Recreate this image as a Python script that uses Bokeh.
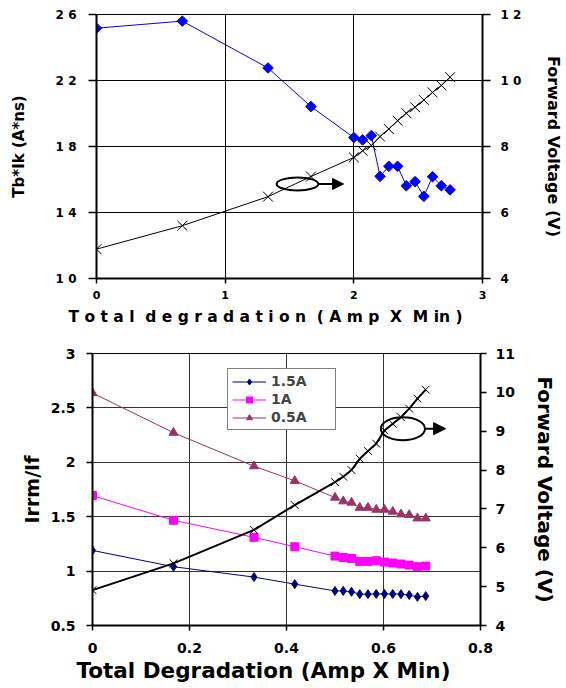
import numpy as np
from bokeh.plotting import figure
from bokeh.models import (Range1d, LinearAxis, Arrow, NormalHead, Legend,
                          LegendItem, Title)
from bokeh.embed import file_html
from bokeh.resources import INLINE

FONT = "DejaVu Sans"
NB = "\u00a0"

# ---------------- data: top chart ----------------
top_x = [0, 0.667, 1.333, 1.667, 2.0, 2.068, 2.136, 2.204, 2.272, 2.34,
         2.408, 2.476, 2.544, 2.612, 2.68, 2.748]
top_tbik = [25.17, 25.6, 22.76, 20.42, 18.54, 18.4, 18.66, 16.19, 16.8, 16.8,
            15.62, 15.87, 14.98, 16.17, 15.62, 15.37]
top_vf = [4.89, 5.60, 6.48, 7.09, 7.67, 7.87, 8.03, 8.30, 8.53, 8.78,
          9.01, 9.19, 9.41, 9.64, 9.85, 10.10]

top_x_ticks = [0, 1, 2, 3]
top_x_labels = ["0", "1", "2", "3"]
top_y_ticks = [10, 14, 18, 22, 26]
top_y_labels = ["1 0", "1 4", "1 8", "2 2", "2 6"]
top_r_ticks = [4, 6, 8, 10, 12]
top_r_labels = ["4", "6", "8", "1 0", "1 2"]

# ---------------- data: bottom chart ----------------
bot_x = [0, 0.167, 0.333, 0.417, 0.5, 0.517, 0.534, 0.551, 0.568, 0.585,
         0.602, 0.619, 0.636, 0.653, 0.670, 0.687]
irr_15 = [1.19, 1.04, 0.945, 0.88, 0.818, 0.818, 0.81, 0.788, 0.788, 0.79,
          0.79, 0.79, 0.788, 0.78, 0.763, 0.77]
irr_10 = [1.694, 1.467, 1.31, 1.224, 1.138, 1.125, 1.116, 1.089, 1.089, 1.095,
          1.083, 1.074, 1.065, 1.055, 1.04, 1.046]
irr_05 = [2.637, 2.272, 1.964, 1.83, 1.676, 1.642, 1.63, 1.583, 1.583, 1.565,
          1.565, 1.547, 1.522, 1.516, 1.485, 1.485]
bot_vf = [4.91, 5.60, 6.46, 7.10, 7.69, 7.83, 8.0, 8.29, 8.49, 8.68,
          9.02, 9.19, 9.36, 9.58, 9.84, 10.07]
series_names = ["1.5A", "1A", "0.5A"]

bot_x_ticks = [0, 0.2, 0.4, 0.6, 0.8]
bot_x_labels = ["0", "0.2", "0.4", "0.6", "0.8"]
bot_y_ticks = [0.5, 1, 1.5, 2, 2.5, 3]
bot_y_labels = ["0.5", "1", "1.5", "2", "2.5", "3"]
bot_r_ticks = [4, 5, 6, 7, 8, 9, 10, 11]
bot_r_labels = ["4", "5", "6", "7", "8", "9", "10", "11"]

# annotation (ellipse + arrow pointing to the right axis)
top_ell = dict(x=1.562, y=15.73, w=0.324, h=0.79, ax0=1.72, ax1=1.92)
bot_ell = dict(x=0.640, y=2.309, w=0.091, h=0.212, ax0=0.685, ax1=0.728)

top_title = (" ".join("Total") + NB + NB + " ".join("degradation") + NB + NB +
             "( A m p" + NB + NB + "X" + NB + NB + "M in )")


def style_axis(ax, ticks, labels, fsize, tick_out, standoff):
    ax.ticker = ticks
    ax.major_label_overrides = {t: l for t, l in zip(ticks, labels)}
    ax.major_label_text_font = FONT
    ax.major_label_text_font_style = "bold"
    ax.major_label_text_font_size = fsize
    ax.major_label_text_color = "black"
    ax.major_tick_out = tick_out
    ax.major_tick_in = 0
    ax.minor_tick_out = 0
    ax.minor_tick_in = 0
    ax.major_label_standoff = standoff
    ax.axis_line_color = "black"
    ax.axis_line_width = 2
    ax.major_tick_line_color = "black"
    ax.major_tick_line_width = 1.5


def style_label(ax, text, fsize, standoff):
    ax.axis_label = text
    ax.axis_label_text_font = FONT
    ax.axis_label_text_font_style = "bold"
    ax.axis_label_text_font_size = fsize
    ax.axis_label_text_color = "black"
    ax.axis_label_standoff = standoff


# ================= top figure =================
p1 = figure(width=566, height=332, x_range=Range1d(0, 3), y_range=Range1d(10, 26),
            output_backend="svg", toolbar_location=None,
            min_border_left=96, min_border_right=83, min_border_top=14,
            min_border_bottom=54)
p1.extra_y_ranges = {"vf": Range1d(4, 12)}
r1 = LinearAxis(y_range_name="vf")
p1.add_layout(r1, "right")

style_axis(p1.xaxis[0], top_x_ticks, top_x_labels, "11px", 5, 7)
style_axis(p1.yaxis[0], top_y_ticks, top_y_labels, "12px", 8, 12)
style_axis(r1, top_r_ticks, top_r_labels, "12px", 8, 10)
style_label(p1.yaxis[0], "Tb*Ik (A*ns)", "15px", 25)
style_label(r1, "Forward Voltage (V)", "16px", 20)
p1.add_layout(Title(text=top_title, align="left", offset=-28, text_font=FONT,
                    text_font_style="bold", text_font_size="15.5px",
                    text_color="black", standoff=8), "below")

for g in (p1.xgrid[0], p1.ygrid[0]):
    g.grid_line_color = "black"
    g.grid_line_width = 1
p1.outline_line_color = "black"
p1.outline_line_width = 1

p1.line(top_x, top_tbik, line_color="#0000FF", line_width=1)
p1.scatter(top_x, top_tbik, marker="square", angle=np.pi / 4, size=7.5,
           fill_color="#0000FF", line_color="#0000FF")
p1.line(top_x, top_vf, y_range_name="vf", line_color="black", line_width=1)
p1.scatter(top_x, top_vf, y_range_name="vf", marker="x", size=14,
           line_color="black", line_width=1)

p1.ellipse(x=[top_ell["x"]], y=[top_ell["y"]], width=[top_ell["w"]],
           height=[top_ell["h"]], fill_color=None, line_color="black",
           line_width=2)
p1.add_layout(Arrow(end=NormalHead(size=11, fill_color="black", line_color="black"),
                    x_start=top_ell["ax0"], y_start=top_ell["y"],
                    x_end=top_ell["ax1"], y_end=top_ell["y"],
                    line_color="black", line_width=2))

# ================= bottom figure =================
p2 = figure(width=566, height=356, x_range=Range1d(0, 0.8), y_range=Range1d(0.5, 3),
            output_backend="svg", toolbar_location=None,
            min_border_left=92, min_border_right=86, min_border_top=21,
            min_border_bottom=63)
p2.extra_y_ranges = {"vf": Range1d(4, 11)}
r2 = LinearAxis(y_range_name="vf")
p2.add_layout(r2, "right")

style_axis(p2.xaxis[0], bot_x_ticks, bot_x_labels, "14px", 5, 12)
style_axis(p2.yaxis[0], bot_y_ticks, bot_y_labels, "14px", 6, 11)
style_axis(r2, bot_r_ticks, bot_r_labels, "14px", 6, 9)
style_label(p2.yaxis[0], "Irrm/If", "19px", 5)
style_label(r2, "Forward Voltage (V)", "20px", 15)
p2.add_layout(Title(text="Total Degradation (Amp X Min)",
                    align="left", offset=-16, text_font=FONT,
                    text_font_style="bold", text_font_size="21.5px",
                    text_color="black", standoff=0), "below")

for g in (p2.xgrid[0], p2.ygrid[0]):
    g.grid_line_color = "#333333"
    g.grid_line_width = 1
p2.outline_line_color = "black"
p2.outline_line_width = 1

colors = ["#000080", "#FF00FF", "#993366"]
markers = [("diamond", 9), ("square", 8), ("triangle", 9)]
items = []
for name, ys, c, (mk, sz) in zip(series_names, [irr_15, irr_10, irr_05],
                                 colors, markers):
    ln = p2.line(bot_x, ys, line_color=c, line_width=1)
    sc = p2.scatter(bot_x, ys, marker=mk, size=sz, fill_color=c, line_color=c)
    items.append(LegendItem(label=name, renderers=[ln, sc]))

p2.line(bot_x, bot_vf, y_range_name="vf", line_color="black", line_width=2)
p2.scatter(bot_x, bot_vf, y_range_name="vf", marker="x", size=11,
           line_color="black", line_width=1)

p2.ellipse(x=[bot_ell["x"]], y=[bot_ell["y"]], width=[bot_ell["w"]],
           height=[bot_ell["h"]], fill_color=None, line_color="black",
           line_width=2)
p2.add_layout(Arrow(end=NormalHead(size=12, fill_color="black", line_color="black"),
                    x_start=bot_ell["ax0"], y_start=bot_ell["y"],
                    x_end=bot_ell["ax1"], y_end=bot_ell["y"],
                    line_color="black", line_width=2))

legend = Legend(items=items, location=(135, 195),
                border_line_color="black", border_line_width=1.5,
                background_fill_color="white", background_fill_alpha=1,
                label_text_font=FONT, label_text_font_style="bold",
                label_text_font_size="14px", glyph_width=34, glyph_height=15,
                label_height=15, label_width=60, spacing=2, padding=4,
                margin=0, label_standoff=5)
p2.add_layout(legend)

open("out.html", "w").write(file_html([p1, p2], INLINE))
